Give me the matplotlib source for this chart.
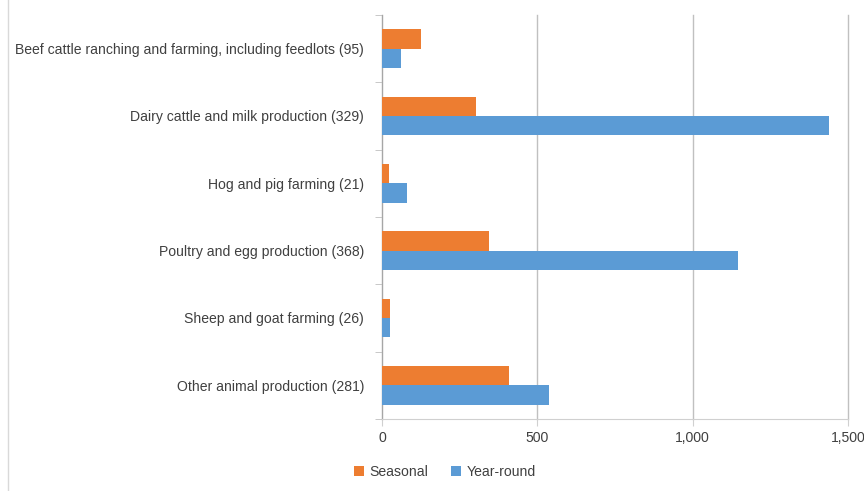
import numpy as np
import matplotlib.pyplot as plt
from matplotlib.lines import Line2D

categories = [
    "Beef cattle ranching and farming, including feedlots (95)",
    "Dairy cattle and milk production (329)",
    "Hog and pig farming (21)",
    "Poultry and egg production (368)",
    "Sheep and goat farming (26)",
    "Other animal production (281)",
]
seasonal = [126, 301, 21, 346, 27, 410]
year_round = [60, 1440, 81, 1147, 27, 538]

plt.rcParams['font.family'] = ['Liberation Sans', 'DejaVu Sans']

fig = plt.figure(figsize=(8.64, 4.91), dpi=100)
ax = fig.add_axes([382 / 864, 1 - 419 / 491, (848 - 382) / 864, (419 - 15) / 491])

y = np.arange(len(categories))
h = 0.285
ax.barh(y - h / 2, seasonal, height=h, color="#ed7d31", label="Seasonal", zorder=3)
ax.barh(y + h / 2, year_round, height=h, color="#5b9bd5", label="Year-round", zorder=3)

ax.set_ylim(len(categories) - 0.5, -0.5)
ax.set_xlim(0, 1500)
ax.set_xticks([0, 500, 1000, 1500])
ax.set_xticklabels(["0", "500", "1,000", "1,500"])
ax.set_yticks(y)
ax.set_yticklabels(categories)
ax.set_yticks(np.arange(-0.5, len(categories), 1), minor=True)

ax.grid(axis="x", color="#c0c0c0", linewidth=1, zorder=0)
for gl in ax.get_xgridlines():
    gl.set_clip_on(False)
for side in ["top", "right"]:
    ax.spines[side].set_visible(False)
ax.spines["left"].set_color("#a6a6a6")
ax.spines["bottom"].set_color("#d0d0d0")
ax.tick_params(axis="y", which="major", length=0, pad=13, labelsize=10.05, labelcolor="#404040")
ax.tick_params(axis="y", which="minor", length=5, color="#bfbfbf")
ax.tick_params(axis="x", length=5, color="#d0d0d0", pad=4, labelsize=10.05, labelcolor="#404040")

ax.legend(loc="center", bbox_to_anchor=(0.135, -0.13), ncol=2, frameon=False,
          fontsize=10.05, labelcolor="#404040", handlelength=0.7, handleheight=0.7,
          handletextpad=0.4, columnspacing=1.6)

# chart border on the left
fig.add_artist(Line2D([8 / 864, 8 / 864], [0, 1], color="#d9d9d9", linewidth=1))

fig.savefig("out.png", dpi=100)
